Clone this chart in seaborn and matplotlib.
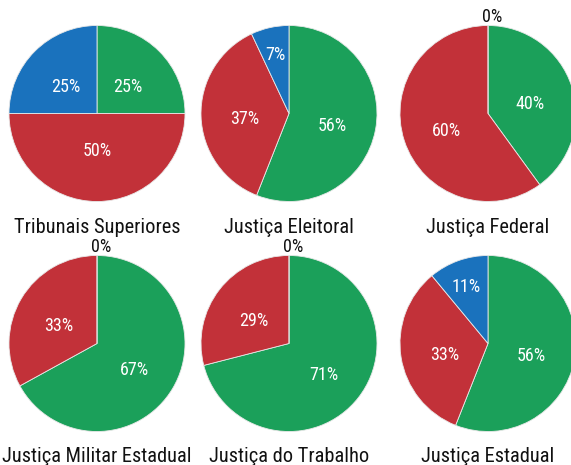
import matplotlib
matplotlib.use("Agg")
import matplotlib.pyplot as plt
import seaborn as sns
import numpy as np

categories = ["Tribunais Superiores", "Justiça Eleitoral", "Justiça Federal",
              "Justiça Militar Estadual", "Justiça do Trabalho", "Justiça Estadual"]
green_vals = [25, 56, 40, 67, 71, 56]
red_vals = [50, 37, 60, 33, 29, 33]
blue_vals = [25, 7, 0, 0, 0, 11]

sns.set_theme(style="white")
plt.rcParams['font.family'] = ['Roboto Condensed', 'Liberation Sans Narrow',
                               'DejaVu Sans Condensed', 'Roboto', 'DejaVu Sans']
palette = sns.color_palette(["#1ba05a", "#c23139", "#1a72bd"])

W, H = 571, 465
fig = plt.figure(figsize=(W / 100, H / 100), dpi=100)
renderer = fig.canvas.get_renderer()
WEIGHT = "normal"


def fit_size(text, target_px, base=15.0):
    t = fig.text(0, 0, text, fontsize=base, fontweight=WEIGHT)
    w = t.get_window_extent(renderer).width
    t.remove()
    return base * target_px / w


title_fs = min(18.0, fit_size("Justiça Militar Estadual", 189))
label_fs = 13

R = 88
col_x = [97, 289, 488]
row_y = [113.5, 343.5]
title_base = [233, 462]

for i, cat in enumerate(categories):
    cx = col_x[i % 3]
    cy = row_y[i // 3]
    ax = fig.add_axes([(cx - R) / W, 1 - (cy + R) / H, 2 * R / W, 2 * R / H])
    vals = [green_vals[i], red_vals[i], blue_vals[i]]
    total = sum(vals)
    wedges, _ = ax.pie(vals, colors=palette, startangle=90, counterclock=False,
                       radius=1, wedgeprops=dict(linewidth=0.6, edgecolor="#e8e8e8"))
    ax.set_xlim(-1, 1)
    ax.set_ylim(-1, 1)
    ax.set_aspect("equal")
    ax.axis("off")
    for w, v in zip(wedges, vals):
        ang = np.deg2rad((w.theta1 + w.theta2) / 2)
        frac = v / total
        color = "white"
        dy = -0.05
        if v == 0:
            d = 1.1
            color = "#111111"
            dy = 0
        elif frac < 0.15:
            d = 0.73
        elif abs(frac - 0.5) < 1e-9:
            d = 0.38
        else:
            d = 0.5
        ax.text(d * np.cos(ang) + (0.05 if v == 0 else 0), d * np.sin(ang) + dy, f"{v}%",
                ha="center", va="center", color=color, fontsize=label_fs,
                fontweight=WEIGHT, clip_on=False)
    fig.text(cx / W, 1 - title_base[i // 3] / H, cat, ha="center", va="baseline",
             fontsize=title_fs, fontweight=WEIGHT, color="#111111")

fig.savefig("out.png", dpi=100)
